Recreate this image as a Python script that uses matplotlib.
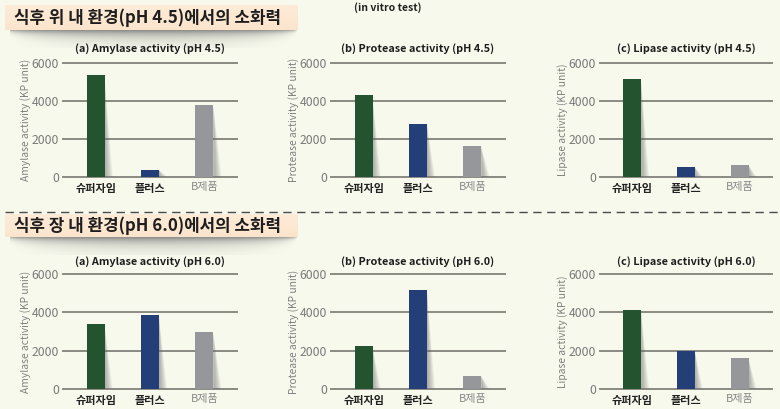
import numpy as np
import matplotlib
matplotlib.use('Agg')
import matplotlib.pyplot as plt
from matplotlib.patches import Polygon

# ---------------- data ----------------
categories = ['슈퍼자임', '플러스', 'B제품']
amylase_45 = [5400, 350, 3800]
protease_45 = [4300, 2800, 1600]
lipase_45 = [5150, 500, 600]
amylase_60 = [3400, 3850, 2950]
protease_60 = [2250, 5200, 650]
lipase_60 = [4150, 2000, 1600]
yticks = [0, 2000, 4000, 6000]
section_titles = ['식후 위 내 환경(pH 4.5)에서의 소화력', '식후 장 내 환경(pH 6.0)에서의 소화력']
titles_45 = ['(a) Amylase activity (pH 4.5)', '(b) Protease activity (pH 4.5)', '(c) Lipase activity (pH 4.5)']
titles_60 = ['(a) Amylase activity (pH 6.0)', '(b) Protease activity (pH 6.0)', '(c) Lipase activity (pH 6.0)']
ylabels = ['Amylase activity (KP unit)', 'Protease activity (KP unit)', 'Lipase activity (KP unit)']
note = '(in vitro test)'

# ---------------- style ----------------
BG = '#f8f9ed'
bar_colors = ['#24532f', '#243f78', '#96979b']
grid_color = '#8b8b84'
NARROW = ['Liberation Sans Narrow', 'Noto Sans CJK KR', 'DejaVu Sans']
KR = ['Noto Sans CJK KR', 'DejaVu Sans']
plt.rcParams['font.family'] = KR

W, H = 780, 409
fig = plt.figure(figsize=(W / 100, H / 100), dpi=100, facecolor=BG)

# decoration layer in pixel coordinates
deco = fig.add_axes([0, 0, 1, 1], zorder=0)
deco.set_facecolor(BG)


def banner(y0, y1, text):
    x0, x1 = 5, 298
    # shadow under banner
    xs = np.linspace(x0 + 5, x1, 300)
    ys = np.linspace(y1 - 1, y1 + 18, 60)
    X, Y = np.meshgrid(xs, ys)
    u = (X - (x0 + x1) / 2) / ((x1 - x0) / 2)
    thick = 16 * np.sqrt(np.clip(1 - u ** 2, 0, 1)) + 0.01
    a = 0.75 * np.exp(-2.2 * (Y - (y1 - 1)) / thick) * (np.abs(u) < 1)
    img = np.zeros(X.shape + (4,))
    img[..., :3] = 0.32
    img[..., 3] = np.clip(a, 0, 1)
    deco.imshow(img, extent=(xs[0], xs[-1], ys[-1], ys[0]), aspect='auto', zorder=1,
                interpolation='bilinear')
    # banner box with slight vertical gradient
    grad = np.linspace(0, 1, 50)[:, None]
    c_top = np.array([0.995, 0.925, 0.85])
    c_bot = np.array([0.985, 0.895, 0.80])
    gimg = c_top * (1 - grad[..., None]) + c_bot * grad[..., None]
    gimg = np.repeat(gimg, 2, axis=1)
    deco.imshow(gimg, extent=(x0, x1, y1, y0), aspect='auto', zorder=2)
    deco.text(14, (y0 + y1) / 2 + 0.5, text, fontsize=12.1, fontweight='bold',
              color='#1e1e1e', va='center', ha='left', zorder=3, family=KR)


banner(5, 30, section_titles[0])
banner(214, 237, section_titles[1])
deco.set_xlim(0, W)
deco.set_ylim(H, 0)
deco.axis('off')
deco.plot([5, W], [212, 212], color='#4a4a4a', lw=1.0, dashes=(6, 4), zorder=2)
deco.text(388, 8, note, fontsize=7.5, fontweight='bold', color='#222222',
          ha='center', va='center', family=NARROW)

# ---------------- panels ----------------
col_left = [63, 331, 600]
col_width = [174, 174, 172]
rows = [(63.3, 176.7), (274.3, 388.7)]
row_data = [[amylase_45, protease_45, lipase_45], [amylase_60, protease_60, lipase_60]]
row_titles = [titles_45, titles_60]
title_off = [14.5, 12.6]

x = np.arange(len(categories))
bw = 0.33
sw = 0.15

for r, (top, bot) in enumerate(rows):
    for c in range(3):
        ax = fig.add_axes([col_left[c] / W, 1 - bot / H, col_width[c] / W, (bot - top) / H],
                          zorder=2)
        ax.patch.set_alpha(0)
        vals = row_data[r][c]
        ax.set_xlim(-0.6, 2.6)
        ax.set_ylim(0, 6000)
        for t in yticks:
            ax.axhline(t, color=grid_color, lw=1.4, zorder=1, clip_on=False)
        # bar shadows (gradient wedge)
        n = 12
        for xi, v in zip(x, vals):
            xr = xi + bw / 2
            for k in range(n):
                wk = sw * (1 - k / n)
                poly = Polygon([(xr, v * 0.97), (xr + wk, 0), (xr, 0)], closed=True,
                               facecolor='#6e6e6e', edgecolor='none', alpha=0.06, zorder=2)
                ax.add_patch(poly)
        ax.bar(x, vals, width=bw, color=bar_colors, zorder=3)
        for s in ax.spines.values():
            s.set_visible(False)
        ax.set_yticks(yticks)
        ax.set_yticklabels([str(t) for t in yticks], family=NARROW, fontsize=8.8, color='#7a7a7a')
        ax.tick_params(axis='y', length=0, pad=3)
        ax.set_xticks(x)
        ax.set_xticklabels(categories, fontsize=8)
        ax.tick_params(axis='x', length=0, pad=3.5)
        for lab, col, wt in zip(ax.get_xticklabels(), ['#222222', '#222222', '#8a8a8a'],
                                ['bold', 'bold', 'normal']):
            lab.set_color(col)
            lab.set_fontweight(wt)
            lab.set_family(KR)
        ax.set_ylabel(ylabels[c], family=NARROW, fontsize=7.4, color='#808080')
        ax.yaxis.set_label_coords(-32 / col_width[c], 0.5)
        ax.text(0.5, 1 + title_off[r] / (bot - top), row_titles[r][c], transform=ax.transAxes,
                ha='center', va='center', fontsize=7.8, fontweight='bold', color='#1e1e1e',
                family=NARROW)

fig.savefig('out.png', dpi=100, facecolor=BG)
